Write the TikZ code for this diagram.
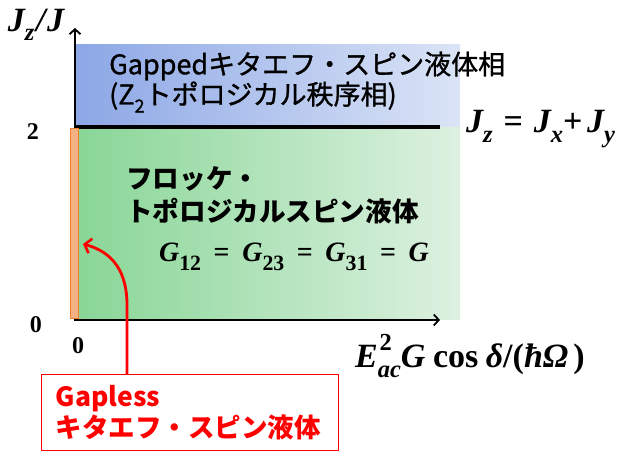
\documentclass[tikz,border=0pt]{standalone}
\usepackage{fontspec}
\usepackage{graphicx}
\usetikzlibrary{arrows.meta}
\newfontfamily\jp{Noto Sans CJK JP}
\newfontfamily\jpm[FakeBold=1.1]{Noto Sans CJK JP}
\newfontfamily\mf{Liberation Serif}
\definecolor{blueL}{RGB}{140,167,230}
\definecolor{blueR}{RGB}{219,228,246}
\definecolor{greenL}{RGB}{136,214,150}
\definecolor{greenR}{RGB}{221,241,225}
\definecolor{orangeF}{RGB}{244,177,131}
\definecolor{orangeD}{RGB}{237,125,49}
\newcommand{\bi}[1]{{\mf\bfseries\itshape #1}}
\newcommand{\bu}[1]{{\mf\bfseries\upshape #1}}
\newcommand{\subs}[1]{\raisebox{-0.28em}{\scalebox{0.72}{#1}}}
\newcommand{\gsubs}[1]{\raisebox{-0.3em}{\scalebox{0.78}{#1}}}
\newcommand{\sups}[1]{\raisebox{0.5em}{\scalebox{0.72}{#1}}}
\newcommand{\Ylabtext}{\bi{J\subs{z}\kern0.05em/\kern0.05em J}}
\newcommand{\Jeqtext}{\bi{J\subs{z}}\kern0.32em\bu{=}\kern0.32em\bi{J\subs{x}}\bu{+}\kern0.14em\bi{J\subs{y}}}
\newcommand{\geqsp}{\kern0.45em}
\newcommand{\Geqtext}{\bi{G\gsubs{\bu{12}}}\geqsp\bu{=}\geqsp\bi{G\gsubs{\bu{23}}}\geqsp\bu{=}\geqsp\bi{G\gsubs{\bu{31}}}\geqsp\bu{=}\geqsp\bi{G}}
\newcommand{\Xlabtext}{\bi{E}\makebox[0pt][l]{\kern0.05em\sups{\bu{2}}}\subs{\bi{ac}}\bi{G}\kern0.22em\bu{cos}\kern0.22em\bi{δ}\bu{/(}\bi{ħΩ}\kern0.15em\bu{)}}
\newcommand{\Zsub}{Z\raisebox{-0.3em}{\fontsize{18}{18}\selectfont 2}}
\begin{document}
\begin{tikzpicture}[x=1pt,y=-1pt,
  axisline/.style={line width=1.8pt,-{Straight Barb[length=5pt,width=11pt,line width=1.8pt]}},
  jpreg/.style={font=\jpm\fontsize{27}{31}\selectfont,anchor=west,inner sep=0pt},
  jpbold/.style={font=\jp\bfseries\fontsize{26.6}{33}\selectfont,anchor=west,inner sep=0pt,align=left},
  mathsmall/.style={inner sep=0pt,font=\fontsize{28}{28}\selectfont},
  mathbig/.style={inner sep=0pt,font=\fontsize{34}{34}\selectfont},
  numlbl/.style={font=\mf\bfseries\fontsize{24}{24}\selectfont,inner sep=0pt},
  redbox/.style={draw=red,line width=1.3pt,text=red,font=\jp\bfseries\fontsize{26.5}{31}\selectfont,
    align=left,anchor=north west,text width=269pt,inner xsep=14pt,minimum height=76pt},
  redarrow/.style={draw=red,line width=2.8pt,-{Straight Barb[length=6pt,width=15pt,line width=2.6pt]}}
]
\useasboundingbox (0,0) rectangle (619,452);
% regions
\shade[left color=blueL,right color=blueR] (75,45) rectangle (460,127);
\shade[left color=greenL,right color=greenR] (75,127) rectangle (460,319);
% coordinates
\coordinate (O) at (75,320);
\coordinate (ytip) at (75,28);
\coordinate (xtip) at (440,320);
\coordinate (bl) at (75,127);
\coordinate (br) at (440,127);
% boundary line
\draw[line width=4pt] (bl) -- (br);
% axes
\draw[axisline] (O) -- (ytip);
\draw[axisline] ([xshift=-1pt]O) -- (xtip);
% gapless strip
\draw[fill=orangeF,draw=orangeD,line width=1pt] (70.5,128) rectangle (78.5,318);
% texts
\node[jpreg] (gap1) at (109,66) {Gappedキタエフ・スピン液体相};
\node[jpreg] (gap2) at (109,97) {(\Zsub トポロジカル秩序相)};
\node[jpbold] (floq) at (126,195) {フロッケ・\\トポロジカルスピン液体};
\node[mathsmall] (geqn) at (294,257) {\Geqtext};
\node[mathbig] (ylab) at (36,25) {\Ylabtext};
\node[mathbig,anchor=west] (jeq) at (466,129) {\Jeqtext};
\node[mathbig,anchor=west] (xlab) at (355,356) {\Xlabtext};
\node[numlbl] (two) at (33,132) {2};
\node[numlbl] (zeroy) at (36,325) {0};
\node[numlbl] (zerox) at (78,346) {0};
% red callout
\node[redbox] (gapless) at (41,374) {Gapless\\キタエフ・スピン液体};
\coordinate (rs) at (127,374);
\coordinate (tip) at (83,244);
\draw[redarrow] (rs) -- (127,305) .. controls (127,272) and (113,252) .. (tip);
\end{tikzpicture}
\end{document}
